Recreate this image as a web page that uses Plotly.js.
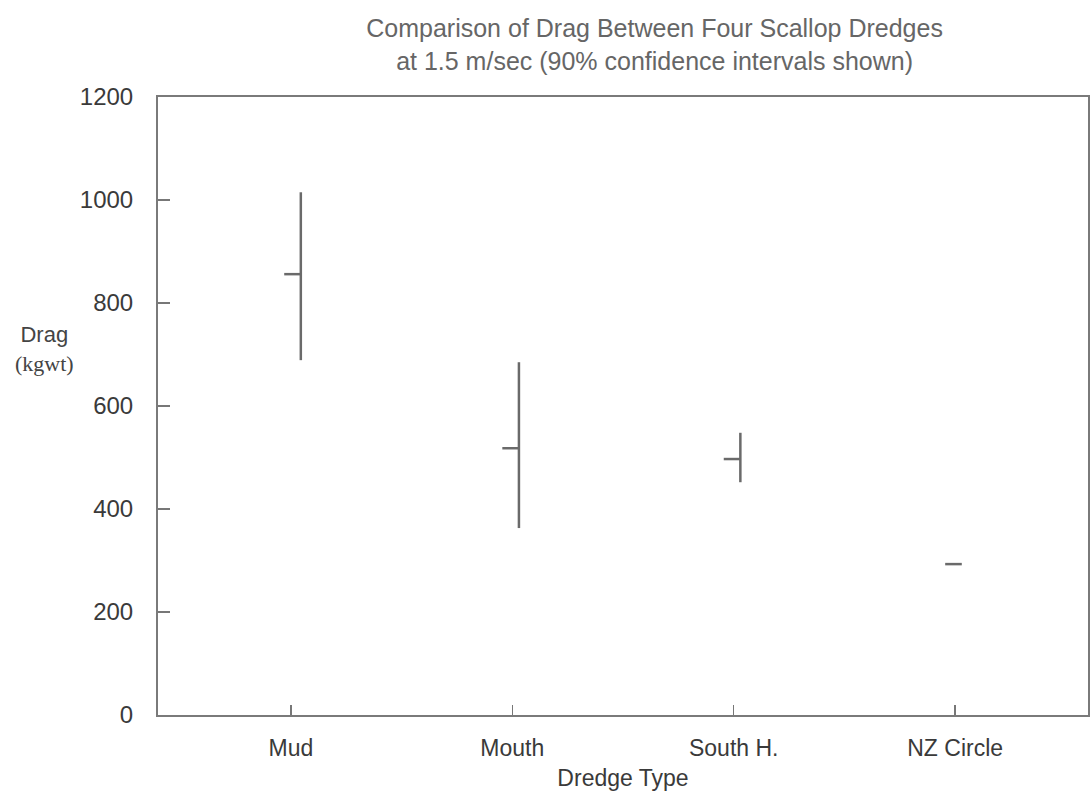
<!DOCTYPE html>
<html>
<head>
<meta charset="utf-8">
<script src="https://cdn.plot.ly/plotly-3.0.1.min.js"></script>
<style>html,body{margin:0;padding:0;background:#fff;}#chart{width:1091px;height:794px;}</style>
</head>
<body>
<div id="chart"></div>
<script>
// Data
const categories = ["Mud", "Mouth", "South H.", "NZ Circle"];
const dragMean = [856, 518, 497, 293];
const ciLow = [689, 363, 452, 293];
const ciHigh = [1015, 685, 548, 293];
const yTickVals = [0, 200, 400, 600, 800, 1000, 1200];

// styling offsets (in category units)
const barOffset = [0.045, 0.03, 0.03, 0.03];
const meanTickLen = 0.075;

const ink = "#6a6a6a";
const vx = [], vy = [], mx = [], my = [];
categories.forEach((c, i) => {
  const xb = i + barOffset[i];
  if (ciHigh[i] > ciLow[i]) {
    vx.push(xb, xb, null); vy.push(ciLow[i], ciHigh[i], null);
  }
  mx.push(xb - meanTickLen, xb, null); my.push(dragMean[i], dragMean[i], null);
});

const traces = [
  {x: vx, y: vy, mode: "lines", line: {color: ink, width: 2.5}, hoverinfo: "skip", showlegend: false},
  {x: mx, y: my, mode: "lines", line: {color: ink, width: 2.5}, hoverinfo: "skip", showlegend: false}
];

const font = "Liberation Sans, Arial, sans-serif";
const layout = {
  width: 1091, height: 794,
  margin: {l: 158, r: 3, t: 97, b: 79},
  paper_bgcolor: "#fff", plot_bgcolor: "#fff",
  showlegend: false,
  title: {
    text: "Comparison of Drag Between Four Scallop Dredges<br>at 1.5 m/sec (90% confidence intervals shown)",
    font: {family: font, size: 25, color: "#666"},
    xref: "container", yref: "container",
    x: 0.6, xanchor: "center", y: 0.953, yanchor: "middle"
  },
  xaxis: {
    range: [-0.6, 3.6],
    tickmode: "array", tickvals: categories.map((c, i) => i), ticktext: categories,
    ticks: "inside", ticklen: 10, tickwidth: 1.5, tickcolor: "#777",
    showline: true, linecolor: "#7a7a7a", linewidth: 2, mirror: true,
    showgrid: false, zeroline: false,
    tickfont: {family: font, size: 23, color: "#3a3a3a"},
    ticklabelstandoff: 11,
    title: {text: "Dredge Type", font: {family: font, size: 23, color: "#3a3a3a"}, standoff: 10}
  },
  yaxis: {
    range: [0, 1200],
    tickmode: "array", tickvals: yTickVals, ticktext: yTickVals.map(String),
    ticks: "inside", ticklen: 12, tickwidth: 1.5, tickcolor: "#777",
    showline: true, linecolor: "#7a7a7a", linewidth: 2, mirror: true,
    showgrid: false, zeroline: false,
    tickfont: {family: font, size: 24, color: "#3a3a3a"},
    ticklabelstandoff: 18
  },
  annotations: [
    {text: "Drag<br><span style='font-family:Liberation Serif, Times New Roman, serif'>(kgwt)</span>",
     xref: "paper", yref: "paper", x: -0.122, y: 0.592, xanchor: "center", yanchor: "middle",
     showarrow: false, font: {family: font, size: 22, color: "#444"}}
  ]
};

Plotly.newPlot("chart", traces, layout, {displayModeBar: false, staticPlot: true});
</script>
</body>
</html>
